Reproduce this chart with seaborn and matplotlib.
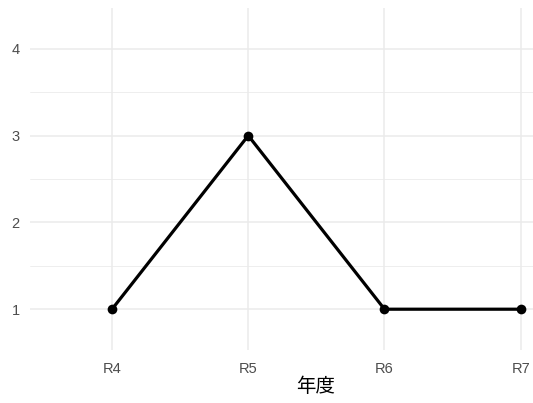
import matplotlib
matplotlib.use("Agg")
import matplotlib.pyplot as plt
import seaborn as sns
import pandas as pd
from matplotlib.ticker import FixedLocator

years = ["R4", "R5", "R6", "R7"]
values = [1, 3, 1, 1]

df = pd.DataFrame({"年度": years, "value": values})

sns.set_theme(style="white")
plt.rcParams['font.family'] = ['Liberation Sans', 'Noto Sans CJK JP', 'DejaVu Sans']

fig = plt.figure(figsize=(5.33, 4.03), dpi=100)
ax = fig.add_axes([30/533, 53/403, 503/533, 342/403])

sns.lineplot(data=df, x="年度", y="value", ax=ax, color="black", linewidth=2.3,
             marker="o", markersize=7, markeredgewidth=0, sort=False)

ax.set_xlim(-0.602, 3.09)
ax.set_ylim(0.53, 4.47)
ax.set_yticks([1, 2, 3, 4])
ax.yaxis.set_minor_locator(FixedLocator([1.5, 2.5, 3.5]))
ax.grid(True, which="major", color="#ebebeb", linewidth=1.1)
ax.grid(True, which="minor", axis="y", color="#ebebeb", linewidth=0.6)
ax.set_axisbelow(True)
for s in ax.spines.values():
    s.set_visible(False)
ax.tick_params(axis="both", which="both", length=0, labelsize=10.5, labelcolor="#4d4d4d")
ax.tick_params(axis="x", pad=8.5)
ax.tick_params(axis="y", pad=7.5)
ax.set_ylabel("")
ax.set_xlabel("年度", fontsize=14, color="black", family=['Noto Sans CJK JP', 'DejaVu Sans'])
# centre of the full (cropped) panel
ax.xaxis.set_label_coords((316 - 30) / 503, -(387 - 350) / 342)
ax.xaxis.label.set_va("center")

fig.savefig("out.png", dpi=100)
